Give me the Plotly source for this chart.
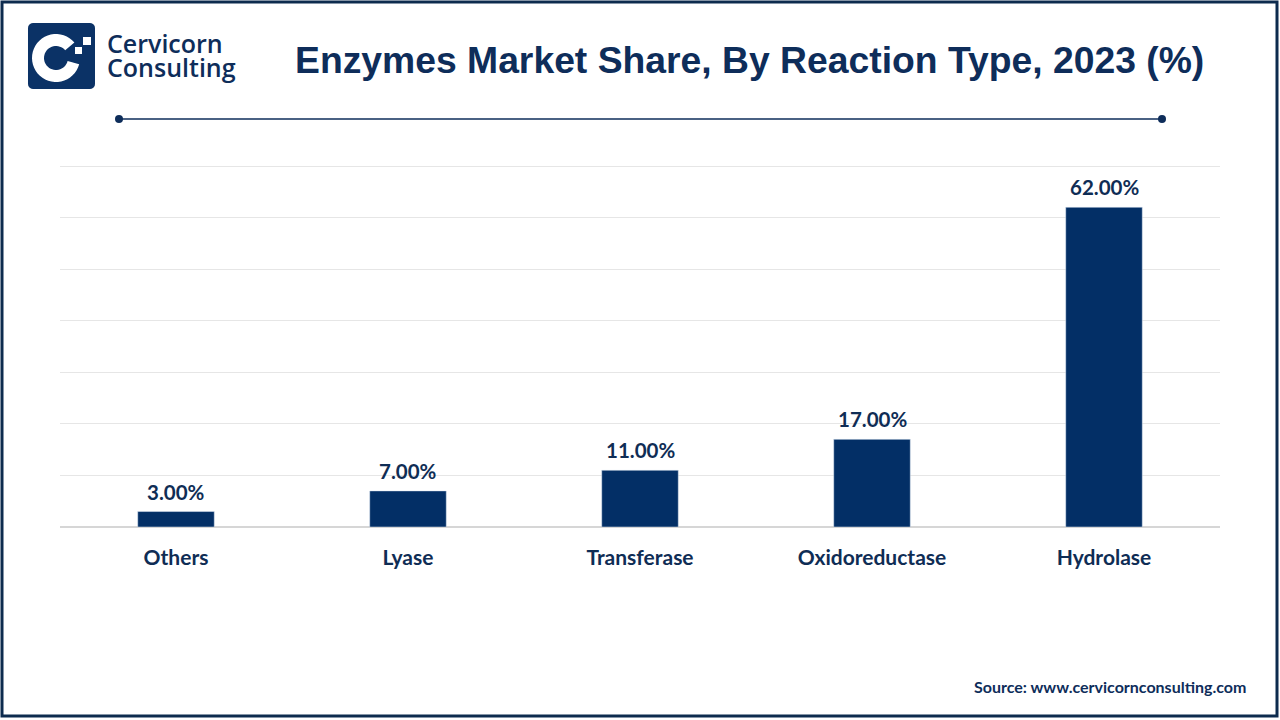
import numpy as np
import plotly.graph_objects as go

# ---- data ----
categories = ["Others", "Lyase", "Transferase", "Oxidoreductase", "Hydrolase"]
shares = [3, 7, 11, 17, 62]
labels = [f"{v:.2f}%" for v in shares]

W, H = 1280, 720
NAVY = "#032f66"
TXT = "#0f2d55"


def px(x):
    return x / W


def py(y):
    return 1 - y / H


fig = go.Figure()
fig.add_trace(go.Bar(x=categories, y=shares, marker_color=NAVY, width=0.33,
                     hoverinfo="skip"))

annotations = []
for c, v, t in zip(categories, shares, labels):
    annotations.append(dict(x=c, y=v, xref="x", yref="y", text=f"<b>{t}</b>",
                            showarrow=False, yanchor="bottom", yshift=6,
                            font=dict(family="Lato", size=20.5, color=TXT)))

# Title
annotations.append(dict(x=px(749), y=py(60), xref="paper", yref="paper",
                        text="<b>Enzymes Market Share, By Reaction Type, 2023 (%)</b>",
                        showarrow=False, xanchor="center", yanchor="middle",
                        font=dict(family="Liberation Sans", size=37.3, color="#0e2d5a")))
# Logo text (one block, tight line spacing)
annotations.append(dict(x=px(105), y=py(55), xref="paper", yref="paper",
                        text="<span style='font-size:25px'>Cervicorn</span><br>"
                             "<span style='font-size:25px'>Consulting</span>",
                        align="left",
                        showarrow=False, xanchor="left", yanchor="middle",
                        font=dict(family="Open Sans", size=18.5, color="#0e2d5a",
                                  weight=600)))
# Source
annotations.append(dict(x=px(1248), y=py(686), xref="paper", yref="paper",
                        text="<b>Source: www.cervicornconsulting.com</b>",
                        showarrow=False, xanchor="right", yanchor="middle",
                        font=dict(family="Lato", size=16, color="#0e2d5a")))

shapes = []
# outer border
shapes.append(dict(type="rect", xref="paper", yref="paper",
                   x0=px(2), x1=px(1277), y0=py(716), y1=py(2),
                   line=dict(color="#0d2b4e", width=3)))
# header rule with dots
shapes.append(dict(type="line", xref="paper", yref="paper",
                   x0=px(119), x1=px(1162), y0=py(119), y1=py(119),
                   line=dict(color="#0e2d5a", width=1.5)))
for cx in (119, 1162):
    shapes.append(dict(type="circle", xref="paper", yref="paper",
                       x0=px(cx - 4), x1=px(cx + 4), y0=py(123), y1=py(115),
                       fillcolor="#0e2d5a", line=dict(width=0)))


# logo: rounded square
def rounded_rect(x0, y0, x1, y1, r):
    pts = []
    for (cx, cy, a0) in [(x1 - r, y0 + r, -90), (x1 - r, y1 - r, 0),
                         (x0 + r, y1 - r, 90), (x0 + r, y0 + r, 180)]:
        for a in np.linspace(a0, a0 + 90, 6):
            t = np.radians(a)
            pts.append((cx + r * np.cos(t), cy + r * np.sin(t)))
    return "M " + " L ".join(f"{px(x):.5f},{py(y):.5f}" for x, y in pts) + " Z"


shapes.append(dict(type="path", xref="paper", yref="paper",
                   path=rounded_rect(28, 23, 95, 89, 5),
                   fillcolor="#0b3266", line=dict(width=0)))

# logo: C ring
cxl, cyl, ro, ri = 56, 58, 24, 12
a_start, a_end = 40, 345
outer = [(cxl + ro * np.cos(np.radians(a)), cyl - ro * np.sin(np.radians(a)))
         for a in np.linspace(a_start, a_end, 40)]
inner = [(cxl + ri * np.cos(np.radians(a)), cyl - ri * np.sin(np.radians(a)))
         for a in np.linspace(a_end, a_start, 40)]
ring = outer + inner
shapes.append(dict(type="path", xref="paper", yref="paper",
                   path="M " + " L ".join(f"{px(x):.5f},{py(y):.5f}" for x, y in ring) + " Z",
                   fillcolor="white", line=dict(width=0)))
for (x0, y0, s) in [(83, 37, 8), (75, 47, 7)]:
    shapes.append(dict(type="rect", xref="paper", yref="paper",
                       x0=px(x0), x1=px(x0 + s), y0=py(y0 + s), y1=py(y0),
                       fillcolor="white", line=dict(width=0)))

YMAX = 71
PX_PER_UNIT = (527 - 166) / 70
fig.update_layout(
    width=W, height=H,
    margin=dict(l=0, r=0, t=0, b=0),
    paper_bgcolor="white", plot_bgcolor="white",
    showlegend=False,
    annotations=annotations,
    shapes=shapes,
    xaxis=dict(domain=[px(60), px(1220)], range=[-0.5, 4.5],
               showgrid=False, showline=False, zeroline=False,
               ticks="", ticklabelstandoff=16,
               tickfont=dict(family="Lato", size=21, color=TXT, weight="bold")),
    yaxis=dict(domain=[py(527), py(527 - YMAX * PX_PER_UNIT)], range=[0, YMAX], dtick=10,
               showticklabels=False, ticks="",
               showgrid=True, gridcolor="#e6e6e6", gridwidth=1,
               zeroline=True, zerolinecolor="#d6d6d6", zerolinewidth=1.5),
)

fig.write_html("out.html", config={"displayModeBar": False},
               post_script="document.body.style.margin='0';document.body.style.overflow='hidden';")
